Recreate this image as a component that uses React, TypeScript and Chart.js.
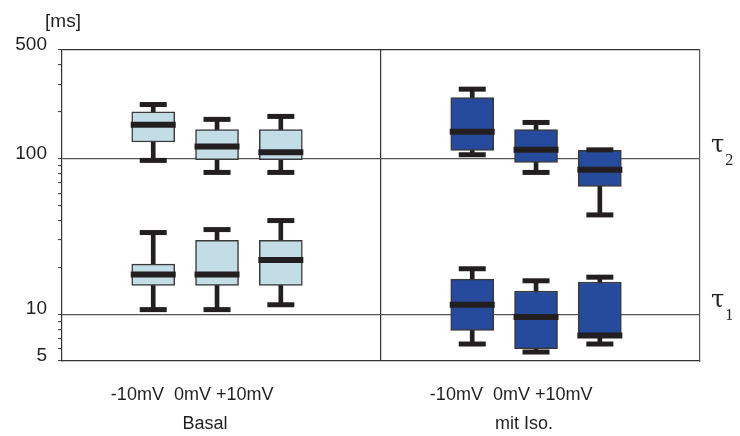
import { useEffect, useRef } from 'react';
import { Chart, registerables } from 'chart.js';

Chart.register(...registerables);

// Categories
const voltages = ['-10mV', '0mV', '+10mV'];
const conditions = ['Basal', 'mit Iso.'];

// Y axis: labelled values and all minor tick positions [ms]
const yLabelled = [5, 10, 100, 500];
const yTickValues = [5, 6, 7, 8, 9, 10, 20, 30, 40, 50, 60, 70, 80, 90, 100, 200, 300, 400, 500];
const unitLabel = '[ms]';

// τ2 (slow component), basal — one entry per voltage
const tau2BasalMin = [97.5, 81.6, 81.6];
const tau2BasalQ1 = [128, 98.5, 98.5];
const tau2BasalMed = [165, 120, 110];
const tau2BasalQ3 = [200, 154, 154];
const tau2BasalMax = [223, 179, 187];

// τ2, with isoprenaline
const tau2IsoMin = [106, 81.6, 43.5];
const tau2IsoQ1 = [113, 94.6, 66.3];
const tau2IsoMed = [149, 114, 85];
const tau2IsoQ3 = [247, 154, 113];
const tau2IsoMax = [280, 171, 114];

// τ1 (fast component), basal
const tau1BasalMin = [10.7, 10.7, 11.5];
const tau1BasalQ1 = [15.3, 15.3, 15.3];
const tau1BasalMed = [18.0, 18.0, 22.3];
const tau1BasalQ3 = [21.0, 29.9, 29.9];
const tau1BasalMax = [33.5, 35.0, 40.0];

// τ1, with isoprenaline
const tau1IsoMin = [6.43, 5.71, 6.43];
const tau1IsoQ1 = [7.85, 6.0, 7.07];
const tau1IsoMed = [11.5, 9.6, 7.3];
const tau1IsoQ3 = [16.8, 14.1, 16.1];
const tau1IsoMax = [19.6, 16.4, 17.3];

// Reference levels marked on the right
const tauLevels = [
  { value: 100, sub: '2' },
  { value: 10, sub: '1' },
];

const conditionColors = ['#c3dde6', '#264a9c'];
const ink = '#231f20';

type Box = { cond: number; min: number[]; q1: number[]; med: number[]; q3: number[]; max: number[] };

const boxes: Box[] = [
  { cond: 0, min: tau2BasalMin, q1: tau2BasalQ1, med: tau2BasalMed, q3: tau2BasalQ3, max: tau2BasalMax },
  { cond: 1, min: tau2IsoMin, q1: tau2IsoQ1, med: tau2IsoMed, q3: tau2IsoQ3, max: tau2IsoMax },
  { cond: 0, min: tau1BasalMin, q1: tau1BasalQ1, med: tau1BasalMed, q3: tau1BasalQ3, max: tau1BasalMax },
  { cond: 1, min: tau1IsoMin, q1: tau1IsoQ1, med: tau1IsoMed, q3: tau1IsoQ3, max: tau1IsoMax },
];

// horizontal layout on a 0..10 linear axis, one half per condition
const halfWidth = 5;
const firstSlot = 1.43;
const slotX = (cond: number, v: number) => cond * halfWidth + firstSlot + v;
const voltageLabelX = (cond: number) => cond * halfWidth + 2.04;
const conditionLabelX = (cond: number) => cond * halfWidth + 2.24;

const font = '"Liberation Sans", Arial, Helvetica, sans-serif';

const sideLabels = {
  id: 'sideLabels',
  afterDraw(chart: any) {
    const { ctx, chartArea, scales } = chart;
    ctx.save();
    ctx.fillStyle = ink;
    ctx.font = `19px ${font}`;
    ctx.textAlign = 'center';
    ctx.textBaseline = 'alphabetic';
    ctx.fillText(unitLabel, chartArea.left + 1, chartArea.top - 23);
    tauLevels.forEach(({ value, sub }) => {
      const py = scales.y.getPixelForValue(value);
      const x0 = chartArea.right + 11;
      ctx.textAlign = 'left';
      ctx.font = '24px "DejaVu Serif", "Liberation Serif", serif';
      ctx.fillText('τ', x0, py - 7);
      const w = ctx.measureText('τ').width;
      ctx.font = '16px "Liberation Serif", "DejaVu Serif", serif';
      ctx.fillText(sub, x0 + w + 1, py + 6);
    });
    ctx.restore();
  },
};

export default function App() {
  const canvasRef = useRef<HTMLCanvasElement | null>(null);

  useEffect(() => {
    const canvas = canvasRef.current;
    if (!canvas) return;

    const whiskerData: any[] = [];
    const boxData: any[] = [];
    const boxColors: string[] = [];
    const capData: any[] = [];
    const medianData: any[] = [];
    boxes.forEach((b) => {
      voltages.forEach((_, v) => {
        const x = slotX(b.cond, v);
        whiskerData.push({ x, y: [b.min[v], b.max[v]] });
        boxData.push({ x, y: [b.q1[v], b.q3[v]] });
        boxColors.push(conditionColors[b.cond]);
        capData.push({ x, y: b.min[v] }, { x, y: b.max[v] });
        medianData.push({ x, y: b.med[v] });
      });
    });

    const chart = new Chart(canvas, {
      type: 'bar',
      data: {
        datasets: [
          {
            type: 'bar',
            data: whiskerData,
            backgroundColor: ink,
            borderWidth: 0,
            barThickness: 4,
            grouped: false,
            order: 4,
          } as any,
          {
            type: 'bar',
            data: boxData,
            backgroundColor: boxColors,
            borderColor: '#3a3a3a',
            borderWidth: 1.5,
            borderSkipped: false,
            barThickness: 43,
            grouped: false,
            order: 3,
          } as any,
          {
            type: 'scatter',
            data: capData,
            pointStyle: 'line',
            pointRadius: 13.5,
            pointBorderWidth: 5,
            pointBorderColor: ink,
            pointBackgroundColor: ink,
            order: 2,
          } as any,
          {
            type: 'scatter',
            data: medianData,
            pointStyle: 'line',
            pointRadius: 22.5,
            pointBorderWidth: 6,
            pointBorderColor: ink,
            pointBackgroundColor: ink,
            order: 1,
          } as any,
        ],
      },
      options: {
        responsive: false,
        maintainAspectRatio: false,
        animation: false,
        devicePixelRatio: 1,
        events: [],
        layout: { padding: { top: 50, left: 0, right: 0, bottom: 0 } },
        plugins: { legend: { display: false }, tooltip: { enabled: false }, title: { display: false } },
        scales: {
          x: {
            type: 'linear',
            position: 'bottom',
            min: 0,
            max: 10,
            offset: false,
            afterBuildTicks: (scale: any) => {
              scale.ticks = [
                { value: voltageLabelX(0) },
                { value: halfWidth },
                { value: voltageLabelX(1) },
              ];
            },
            afterFit: (scale: any) => {
              scale.height = 42;
            },
            ticks: {
              autoSkip: false,
              maxRotation: 0,
              padding: 23,
              color: ink,
              font: { family: font, size: 18 },
              callback: (value: any) => {
                const v = Number(value);
                if (Math.abs(v - halfWidth) < 1e-6) return '';
                return voltages.join('  ').replace('  +', ' +');
              },
            },
            grid: {
              offset: false,
              drawTicks: false,
              lineWidth: 1.2,
              color: (ctx: any) => (ctx.tick && Math.abs(ctx.tick.value - halfWidth) < 1e-6 ? '#333' : 'rgba(0,0,0,0)'),
            },
            border: { display: true, color: '#333', width: 1.2 },
          } as any,
          xg: {
            type: 'linear',
            axis: 'x',
            position: 'bottom',
            min: 0,
            max: 10,
            offset: false,
            afterBuildTicks: (scale: any) => {
              scale.ticks = conditions.map((_, c) => ({ value: conditionLabelX(c) }));
            },
            afterFit: (scale: any) => {
              scale.height = 33;
            },
            ticks: {
              autoSkip: false,
              maxRotation: 0,
              padding: 2,
              color: ink,
              font: { family: font, size: 18 },
              callback: (_value: any, index: number) => conditions[index] ?? '',
            },
            grid: { display: false, offset: false },
            border: { display: false },
          } as any,
          y: {
            type: 'logarithmic',
            position: 'left',
            min: 5,
            max: 500,
            afterBuildTicks: (scale: any) => {
              scale.ticks = yTickValues.map((value) => ({ value }));
            },
            afterFit: (scale: any) => {
              scale.width = 62;
            },
            ticks: {
              autoSkip: false,
              padding: 11,
              labelOffset: -5,
              color: ink,
              font: { family: font, size: 19 },
              callback: (value: any) => (yLabelled.includes(Number(value)) ? String(value) : ''),
            },
            grid: {
              drawTicks: true,
              tickLength: 4,
              tickColor: '#333',
              tickWidth: 1,
              lineWidth: 1.2,
              color: (ctx: any) => {
                const v = ctx.tick ? ctx.tick.value : null;
                if (v === 500) return '#333';
                if (v === 100 || v === 10) return '#555';
                return 'rgba(0,0,0,0)';
              },
            },
            border: { display: true, color: '#333', width: 1.2 },
          } as any,
          y2: {
            type: 'logarithmic',
            position: 'right',
            min: 5,
            max: 500,
            afterFit: (scale: any) => {
              scale.width = 40;
            },
            ticks: { display: false },
            grid: { display: false },
            border: { display: true, color: '#555', width: 1.2 },
          } as any,
        },
      },
      plugins: [sideLabels],
    });

    return () => chart.destroy();
  }, []);

  return (
    <div style={{ position: 'fixed', left: 0, top: 0, width: 740, height: 436, background: '#fff' }}>
      <canvas ref={canvasRef} width={740} height={436} style={{ width: 740, height: 436, display: 'block' }} />
    </div>
  );
}
